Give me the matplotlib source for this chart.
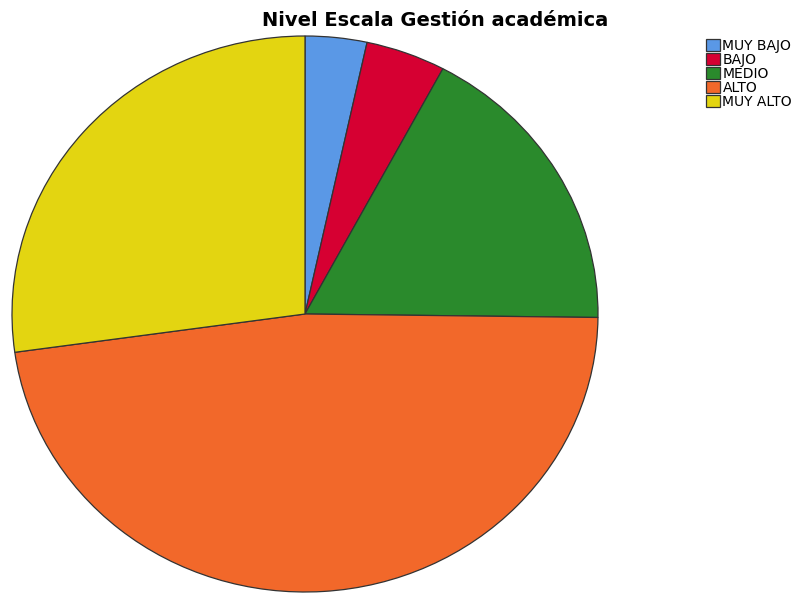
import matplotlib.pyplot as plt
from matplotlib.patches import Patch

categories = ["MUY BAJO", "BAJO", "MEDIO", "ALTO", "MUY ALTO"]
values = [3.4, 4.4, 17.4, 47.6, 27.2]
colors = ["#5a98e6", "#d60032", "#2a8a2c", "#f2682a", "#e3d511"]

fig = plt.figure(figsize=(8.07, 5.96), dpi=100)
ax = fig.add_axes([12 / 807, 4 / 596, 586 / 807, 556 / 596])
ax.pie(values, colors=colors, startangle=90, counterclock=False,
       wedgeprops=dict(edgecolor="#333333", linewidth=0.9))
ax.set_aspect("auto")
ax.set_xlim(-1.0, 1.0)
ax.set_ylim(-1.0, 1.0)
ax.axis("off")

fig.text(435 / 807, 1 - 20 / 596, "Nivel Escala Gestión académica",
         ha="center", va="center", fontsize=14, fontweight="bold")

handles = [Patch(facecolor=c, edgecolor="#333333", linewidth=0.9) for c in colors]
fig.legend(handles, categories, loc="upper left", bbox_to_anchor=(703 / 807, 1 - 36 / 596),
           frameon=False, fontsize=10, handlelength=1.0, handleheight=1.0,
           handletextpad=0.2, labelspacing=0.0, borderpad=0.2, borderaxespad=0)

plt.savefig("out.png", dpi=100)
